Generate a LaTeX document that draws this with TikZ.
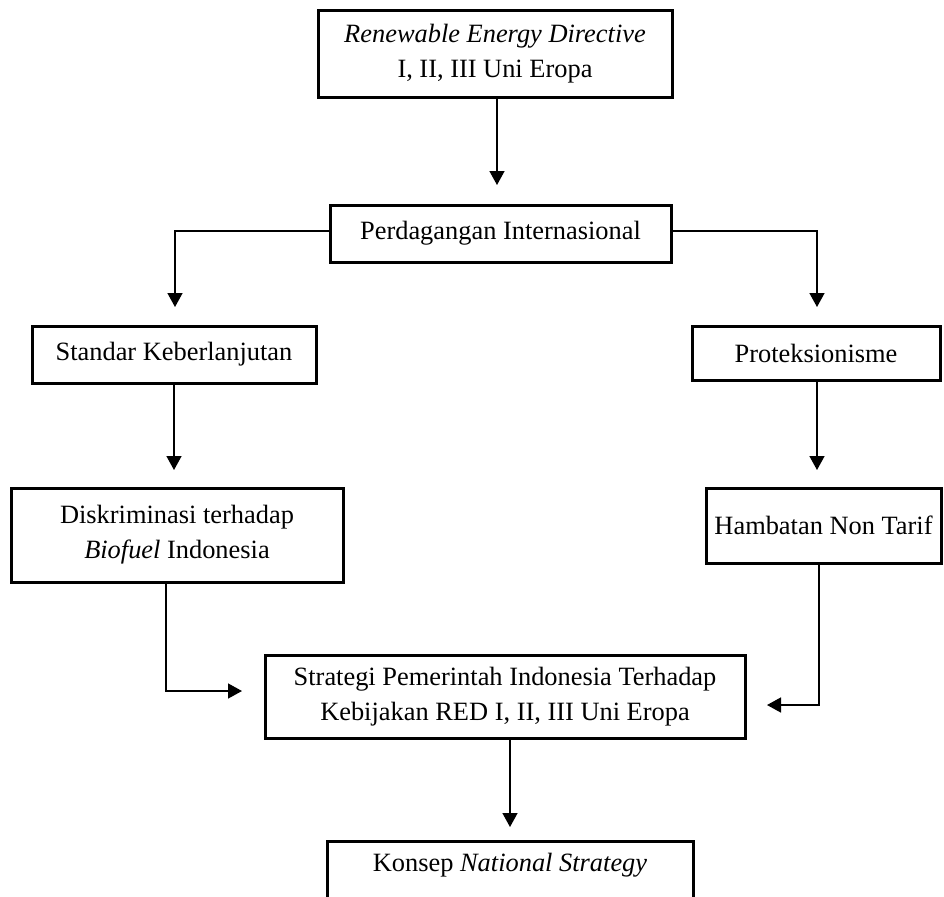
\documentclass[tikz,border=0pt]{standalone}
\usepackage{fontspec}
\setmainfont{Liberation Serif}
\usetikzlibrary{arrows.meta}

\begin{document}
\begin{tikzpicture}[x=0.5pt, y=-0.5pt,
  kotak/.style={draw, line width=1.5pt, align=center, inner sep=0pt,
    font=\fontsize{13.2}{17.5}\selectfont},
  panah/.style={line width=0.75pt, -{Triangle[width=7.5pt,length=7pt]}}]
\useasboundingbox (0,0) rectangle (944,896);
% Boxes
\node[kotak, minimum width=177pt, minimum height=43.5pt] (red) at (495,53.5) {\textit{Renewable Energy Directive}\\I, II, III Uni Eropa};
\node[kotak, minimum width=170.5pt, minimum height=28.5pt] (dagang) at (500.5,233.5) {Perdagangan Internasional};
\node[kotak, minimum width=142pt, minimum height=28.5pt] (standar) at (174,354.5) {Standar Keberlanjutan};
\node[kotak, minimum width=124pt, minimum height=27pt] (proteksi) at (816,353) {Proteksionisme};
\node[kotak, minimum width=166pt, minimum height=47pt] (diskrim) at (177,535) {Diskriminasi terhadap\\\textit{Biofuel} Indonesia};
\node[kotak, minimum width=117.5pt, minimum height=37.5pt] (hambatan) at (823.5,525.5) {Hambatan Non Tarif};
\node[kotak, minimum width=240pt, minimum height=41.5pt] (strategi) at (505,696.5) {Strategi Pemerintah Indonesia Terhadap\\Kebijakan RED I, II, III Uni Eropa};
\node[kotak, anchor=north, minimum width=183pt, text height=11pt, text depth=13pt, inner ysep=4pt] (konsep) at (510,840) {Konsep \textit{National Strategy}};
% Arrow ends
\coordinate (t1) at (497,185);
\coordinate (t2) at (175,307);
\coordinate (t3) at (817,307);
\coordinate (t4) at (174,470);
\coordinate (t5) at (817,470);
\coordinate (t6) at (242,691);
\coordinate (b6) at (166,691);
\coordinate (t7) at (767,705);
\coordinate (b7) at (819,705);
\coordinate (t8) at (510,827);
% Arrows
\draw[panah] (red.south -| t1) -- (t1);
\draw[panah] (dagang.west |- 0,231) -| (t2);
\draw[panah] (dagang.east |- 0,231) -| (t3);
\draw[panah] (standar.south -| t4) -- (t4);
\draw[panah] (proteksi.south -| t5) -- (t5);
\draw[panah] (diskrim.south -| b6) -- (b6) -- (t6);
\draw[panah] (hambatan.south -| b7) -- (b7) -- (t7);
\draw[panah] (strategi.south -| t8) -- (t8);
\end{tikzpicture}
\end{document}
